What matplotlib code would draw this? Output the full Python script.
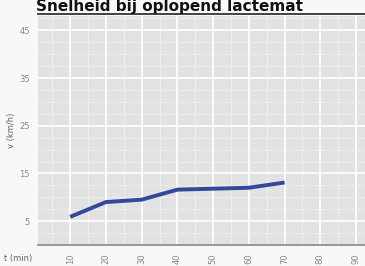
import matplotlib
matplotlib.use("Agg")
import matplotlib.pyplot as plt
from matplotlib.ticker import MultipleLocator

title = "Snelheid bij oplopend lactemat"
x_labels = ["10", "20", "30", "40", "50", "60", "70", "80", "90"]
speed = [5.9, 9.0, 9.5, 11.6, 11.8, 12.0, 13.1]
y_ticks = [5, 15, 25, 35, 45]

W, H = 365, 266
fig = plt.figure(figsize=(W / 100, H / 100), dpi=100)
fig.patch.set_facecolor("#f7f8f7")

left, right = 38 / W, 1.0
bottom, top = 1 - 245 / H, 1 - 16 / H
ax = fig.add_axes([left, bottom, right - left, top - bottom])
ax.set_facecolor("#e2e2e2")

xs = list(range(len(speed)))
ax.plot(xs, speed, color="#34489a", lw=2.8, solid_capstyle="butt", zorder=3)

ax.set_xlim(-0.9, 8.25)
ax.set_ylim(0, 48)
ax.set_xticks(range(len(x_labels)))
ax.set_xticklabels(x_labels, rotation=90, fontsize=6, color="#888888")
ax.set_yticks(y_ticks)
ax.set_yticklabels([str(v) for v in y_ticks], fontsize=6, color="#888888")
ax.yaxis.set_minor_locator(MultipleLocator(2.5))
ax.xaxis.set_minor_locator(MultipleLocator(0.5))
ax.grid(True, which="major", color="white", lw=1.2)
ax.grid(True, which="minor", color="#f0f0f0", lw=0.6)
ax.set_axisbelow(True)
ax.tick_params(which="both", length=0, pad=6)
for s in ["top", "right", "left"]:
    ax.spines[s].set_visible(False)
ax.spines["bottom"].set_color("#888888")
ax.spines["bottom"].set_linewidth(1.2)

ax.set_ylabel("v (km/h)", fontsize=6, color="#666666", labelpad=2)
fig.text(4 / W, 1 - 258 / H, "t (min)", fontsize=6, color="#666666", ha="left", va="center")

fig.text(36 / W, 1 - 7 / H, title, fontsize=11, fontweight="bold", color="#111111",
         ha="left", va="center")
fig.add_artist(plt.Line2D([38 / W, 1.0], [1 - 14 / H, 1 - 14 / H], color="#333333", lw=1.3,
                          transform=fig.transFigure))

fig.savefig("out.png", dpi=100, facecolor=fig.get_facecolor())
